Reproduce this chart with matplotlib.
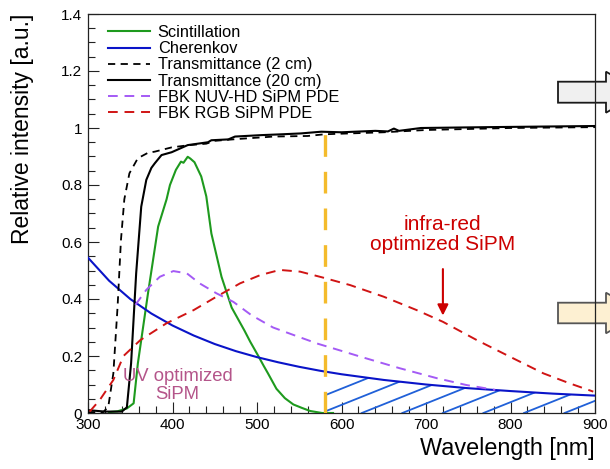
import numpy as np
import matplotlib
matplotlib.use("Agg")
import matplotlib.pyplot as plt
from matplotlib.patches import Polygon, PathPatch
from matplotlib.ticker import MultipleLocator, FixedLocator

plt.rcParams['font.family'] = ['Liberation Sans', 'DejaVu Sans']

# ---------------- data ----------------
scint_wl = [325, 335, 346, 354, 359, 371, 383, 393, 397, 404, 410, 413, 418, 421, 426, 434, 440,
            446, 458, 470, 485, 492, 501, 508, 513, 523, 533, 543, 553, 563, 577, 590]
scint_val = [0.003, 0.006, 0.016, 0.034, 0.174, 0.42, 0.654, 0.75, 0.80, 0.853, 0.882, 0.878,
             0.899, 0.893, 0.88, 0.83, 0.76, 0.63, 0.478, 0.37, 0.29, 0.25, 0.203, 0.165,
             0.139, 0.085, 0.052, 0.03, 0.018, 0.007, 0.0, 0.0]

cher_wl = [300, 325, 350, 375, 400, 425, 450, 475, 500, 525, 550, 575, 600, 650, 700, 750, 800, 850, 900]
cher_val = [0.545, 0.464, 0.40, 0.349, 0.307, 0.272, 0.242, 0.217, 0.196, 0.178, 0.162, 0.148,
            0.136, 0.116, 0.100, 0.087, 0.077, 0.068, 0.061]

t2_wl = [300, 318, 324, 330, 335, 339, 343, 349, 359, 371, 379, 399, 420, 440, 450, 480, 520,
         560, 580, 600, 650, 700, 800, 900]
t2_val = [0.003, 0.003, 0.022, 0.139, 0.373, 0.607, 0.75, 0.841, 0.894, 0.913, 0.917, 0.932,
          0.94, 0.945, 0.955, 0.962, 0.97, 0.972, 0.978, 0.98, 0.985, 0.993, 1.0, 1.003]

t20_wl = [300, 320, 340, 346, 351, 357, 363, 369, 375, 379, 387, 399, 418, 430, 442, 446, 466,
          474, 505, 530, 552, 576, 600, 616, 640, 655, 662, 668, 694, 773, 900]
t20_val = [0.01, 0.005, 0.005, 0.02, 0.174, 0.49, 0.724, 0.818, 0.86, 0.876, 0.905, 0.915,
           0.94, 0.945, 0.95, 0.957, 0.96, 0.97, 0.975, 0.978, 0.981, 0.987, 0.985, 0.987,
           0.99, 0.988, 0.998, 0.99, 1.0, 1.003, 1.007]

nuv_wl = [356, 369, 385, 401, 417, 432, 452, 472, 493, 519, 543, 572, 600, 622, 669, 713, 748, 782]
nuv_val = [0.379, 0.432, 0.478, 0.498, 0.49, 0.455, 0.42, 0.39, 0.344, 0.30, 0.274, 0.243,
           0.218, 0.198, 0.157, 0.122, 0.098, 0.081]

rgb_wl = [302, 314, 330, 342, 362, 393, 425, 452, 480, 504, 527, 551, 577, 610, 650, 689,
          720, 760, 799, 839, 870, 898]
rgb_val = [0.005, 0.046, 0.116, 0.20, 0.256, 0.315, 0.361, 0.408, 0.455, 0.484, 0.502, 0.496,
           0.476, 0.449, 0.408, 0.361, 0.32, 0.256, 0.198, 0.139, 0.104, 0.075]

cutoff_wl = 580
cutoff_top = 0.985

x_ticks = [300, 400, 500, 600, 700, 800, 900]
y_ticks = [0, 0.2, 0.4, 0.6, 0.8, 1.0, 1.2, 1.4]
y_tick_labels = ["0", "0.2", "0.4", "0.6", "0.8", "1", "1.2", "1.4"]

labels = ["Scintillation", "Cherenkov", "Transmittance (2 cm)", "Transmittance (20 cm)",
          "FBK NUV-HD SiPM PDE", "FBK RGB SiPM PDE"]

# ---------------- figure ----------------
W, H = 610, 469
fig = plt.figure(figsize=(W / 100, H / 100), dpi=100)
ax = fig.add_axes([88 / W, 1 - 413 / H, 507 / W, 399 / H])
ax.patch.set_alpha(0)

green = '#1e9a1e'
blue = '#0a14c8'
purple = '#a45af5'
red = '#d01414'

l_sc, = ax.plot(scint_wl, scint_val, color=green, lw=1.5, zorder=3)
l_ch, = ax.plot(cher_wl, cher_val, color=blue, lw=1.5, zorder=3)
l_t2, = ax.plot(t2_wl, t2_val, color='black', lw=1.3, dashes=(4, 3), zorder=3)
l_t20, = ax.plot(t20_wl, t20_val, color='black', lw=1.5, zorder=3)
l_nuv, = ax.plot(nuv_wl, nuv_val, color=purple, lw=1.4, dashes=(5, 3.5), zorder=3)
l_rgb, = ax.plot(rgb_wl, rgb_val, color=red, lw=1.4, dashes=(5, 3.5), zorder=3)

# cutoff line
ax.plot([cutoff_wl, cutoff_wl], [0, cutoff_top], color='#f4bb2c', lw=2.4,
        dashes=(6.5, 4.5), zorder=4)

# hatched region under Cherenkov above the cutoff
xf = np.linspace(cutoff_wl, 900, 200)
yf = np.interp(xf, cher_wl, cher_val)
poly = ax.fill_between(xf, 0, yf, facecolor='none', edgecolor='none')
clip_path = poly.get_paths()[0]
clip_patch = PathPatch(clip_path, transform=ax.transData, facecolor='none', edgecolor='none')
ax.add_patch(clip_patch)
k = 0.4 * (1.4 / 399) / (600 / 507)   # slope in data units
for x0 in np.arange(528, 900, 48.0):
    xs = np.array([x0, x0 + 250])
    ln, = ax.plot(xs, k * (xs - x0), color='#2060d8', lw=1.3, zorder=2)
    ln.set_clip_path(clip_patch)

# annotations
ax.text(720, 0.625, "infra-red\noptimized SiPM", color='#cc0000', fontsize=15,
        ha='center', va='center', linespacing=1.05)
ax.annotate("", xy=(720, 0.342), xytext=(720, 0.505),
            arrowprops=dict(arrowstyle='-|>', color='#cc0000', lw=1.5,
                            mutation_scale=16, shrinkA=0, shrinkB=0))
ax.text(406, 0.097, "UV optimized\nSiPM", color='#b4558a', fontsize=13.3,
        ha='center', va='center', linespacing=1.05)

# axes styling
ax.set_xlim(300, 900)
ax.set_ylim(0, 1.4)
ax.xaxis.set_major_locator(FixedLocator(x_ticks))
ax.xaxis.set_minor_locator(MultipleLocator(20))
ax.yaxis.set_major_locator(FixedLocator(y_ticks))
ax.set_yticklabels(y_tick_labels)
ax.yaxis.set_minor_locator(MultipleLocator(0.05))
ax.tick_params(which='both', direction='in', top=False, right=False, color='#222222',
               width=0.8, labelsize=11)
ax.tick_params(which='major', length=8)
ax.tick_params(which='minor', length=4.8)
ax.tick_params(axis='y', pad=4.3)
ax.tick_params(axis='x', pad=3.5)
for s in ax.spines.values():
    s.set_linewidth(0.9)
    s.set_color('#222222')

ax.set_xlabel("Wavelength [nm]", fontsize=16.8, loc='right')
ax.xaxis.set_label_coords(1.0, -0.06)
ax.set_ylabel("Relative intensity [a.u.]", fontsize=16.5, loc='top')
ax.yaxis.set_label_coords(-0.106, 1.0)

leg = ax.legend([l_sc, l_ch, l_t2, l_t20, l_nuv, l_rgb], labels, loc='upper left',
                bbox_to_anchor=(0.039, 0.972), frameon=False, fontsize=11.8,
                borderpad=0, borderaxespad=0, labelspacing=0.07, handlelength=2.55,
                handletextpad=0.5)

# block arrows at the right edge (outside the frame)
def px(pts):
    return [(x / W, 1 - y / H) for x, y in pts]

gray_arrow = Polygon(px([(558, 81.7), (606, 81.7), (606, 71.7), (642, 92.2), (606, 112.7),
                         (606, 102.7), (558, 102.7)]), closed=True, transform=fig.transFigure,
                     facecolor='#f0f0f0', edgecolor='#1a1a1a', lw=1.3, zorder=-1)
yellow_arrow = Polygon(px([(558, 302.7), (606, 302.7), (606, 292.7), (642, 313), (606, 333.3),
                           (606, 323.3), (558, 323.3)]), closed=True, transform=fig.transFigure,
                       facecolor='#fdf0d2', edgecolor='#555555', lw=1.3, zorder=-1)
fig.patches.extend([gray_arrow, yellow_arrow])

fig.savefig("out.png", dpi=100)
